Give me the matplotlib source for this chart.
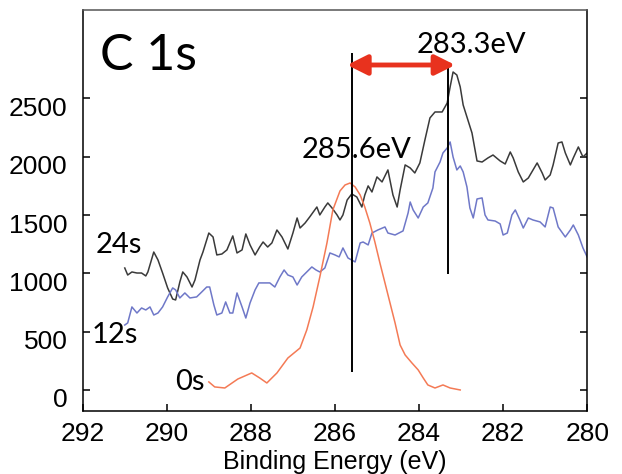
import matplotlib
matplotlib.use("Agg")
import numpy as np
from matplotlib import pyplot as plt
from matplotlib.transforms import ScaledTranslation

# 24s spectrum (black)
be_24s = [291.00, 290.93, 290.83, 290.71, 290.60, 290.50, 290.45, 290.31, 290.21, 290.10,
          289.98, 289.86, 289.79, 289.69, 289.62, 289.52, 289.40, 289.33, 289.21, 289.14,
          289.00, 288.90, 288.81, 288.69, 288.57, 288.43, 288.33, 288.21, 288.12, 288.02,
          287.90, 287.79, 287.71, 287.60, 287.50, 287.38, 287.26, 287.12, 287.00, 286.90,
          286.83, 286.71, 286.60, 286.43, 286.36, 286.24, 286.17, 286.07, 285.95, 285.88,
          285.81, 285.71, 285.60, 285.48, 285.36, 285.29, 285.21, 285.12, 285.00, 284.88,
          284.74, 284.62, 284.52, 284.45, 284.33, 284.21, 284.10, 283.98, 283.86, 283.74,
          283.62, 283.45, 283.33, 283.26, 283.19, 283.10, 283.02, 282.95, 282.86, 282.74,
          282.62, 282.50, 282.36, 282.24, 282.07, 281.95, 281.83, 281.76, 281.64, 281.52,
          281.40, 281.19, 281.07, 281.00, 280.88, 280.81, 280.69, 280.60, 280.52, 280.40,
          280.33, 280.21, 280.10, 280.00]
cps_24s = [1046, 986, 1012, 1003, 1003, 978, 1012, 1183, 1115, 1003,
           875, 780, 772, 926, 1012, 969, 883, 943, 1115, 1183,
           1346, 1312, 1158, 1166, 1201, 1321, 1175, 1201, 1338, 1244,
           1158, 1226, 1269, 1226, 1261, 1372, 1312, 1209, 1346, 1475,
           1389, 1432, 1484, 1569, 1501, 1569, 1604, 1561, 1501, 1458,
           1501, 1629, 1681, 1655, 1569, 1672, 1750, 1698, 1827, 1784,
           1887, 1672, 1569, 1715, 1930, 1904, 1861, 1947, 2144, 2333,
           2384, 2384, 2461, 2599, 2727, 2701, 2599, 2444, 2341, 2204,
           1964, 1955, 1990, 2015, 1964, 1938, 2041, 1990, 1870, 1784,
           1818, 1947, 1861, 1801, 1844, 1930, 2118, 2127, 2033, 1930,
           1990, 2084, 1998, 2033]

# 12s spectrum (blue)
be_12s = [291.00, 290.93, 290.83, 290.71, 290.60, 290.50, 290.40, 290.31, 290.21, 290.10,
          289.98, 289.86, 289.79, 289.69, 289.57, 289.45, 289.29, 289.17, 289.05, 288.98,
          288.88, 288.81, 288.69, 288.60, 288.50, 288.43, 288.33, 288.21, 288.12, 288.02,
          287.90, 287.81, 287.67, 287.55, 287.43, 287.31, 287.21, 287.12, 287.00, 286.90,
          286.79, 286.67, 286.55, 286.45, 286.36, 286.24, 286.12, 286.00, 285.90, 285.81,
          285.69, 285.52, 285.40, 285.33, 285.21, 285.12, 284.98, 284.81, 284.74, 284.57,
          284.38, 284.26, 284.21, 284.14, 284.02, 283.90, 283.79, 283.67, 283.62, 283.50,
          283.43, 283.33, 283.26, 283.19, 283.10, 283.02, 282.95, 282.86, 282.79, 282.71,
          282.62, 282.50, 282.43, 282.36, 282.19, 282.07, 282.00, 281.90, 281.79, 281.71,
          281.60, 281.52, 281.40, 281.29, 281.12, 281.00, 280.88, 280.81, 280.69, 280.52,
          280.40, 280.33, 280.21, 280.10, 280.00]
cps_12s = [557, 575, 712, 660, 703, 686, 712, 643, 660, 712,
           798, 875, 858, 789, 832, 789, 798, 840, 883, 883,
           729, 643, 660, 755, 660, 660, 832, 712, 617, 746,
           858, 918, 918, 918, 883, 969, 1029, 986, 969, 900,
           969, 1012, 1055, 1029, 1012, 1046, 1175, 1158, 1141, 1218,
           1132, 1098, 1261, 1269, 1244, 1346, 1372, 1398, 1346, 1329,
           1364, 1518, 1612, 1544, 1475, 1569, 1604, 1732, 1870, 1955,
           2033, 2075, 2127, 1998, 1887, 1921, 1870, 1741, 1561, 1475,
           1638, 1647, 1501, 1458, 1449, 1424, 1329, 1346, 1501, 1544,
           1458, 1389, 1475, 1458, 1441, 1398, 1569, 1561, 1398, 1312,
           1372, 1415, 1329, 1218, 1141]

# 0s spectrum (orange)
be_0s = [289.00, 288.86, 288.62, 288.31, 287.98, 287.79, 287.62, 287.38, 287.12, 286.83,
         286.67, 286.52, 286.36, 286.19, 286.05, 285.88, 285.76, 285.64, 285.52, 285.40,
         285.29, 285.17, 285.05, 284.93, 284.81, 284.69, 284.57, 284.45, 284.33, 284.17,
         284.02, 283.90, 283.79, 283.62, 283.43, 283.26, 283.02]
cps_0s = [69, 26, 17, 94, 146, 103, 60, 146, 274, 360,
          515, 712, 969, 1261, 1544, 1707, 1758, 1775, 1741, 1672,
          1569, 1432, 1269, 1089, 918, 746, 575, 386, 300, 232,
          172, 103, 43, 17, 43, 17, 0]

peak_pos = [285.6, 283.3]
peak_ymin = [154, 995]
peak_ymax = [2890, 2779]
xticks = [292, 290, 288, 286, 284, 282, 280]
yticks = [0, 500, 1000, 1500, 2000, 2500]

plt.rcParams['font.family'] = ['Liberation Sans', 'DejaVu Sans']

fig = plt.figure(figsize=(6.22, 4.74), dpi=100)
ax = fig.add_axes([0.133, 0.133, 0.811, 0.846])

ax.plot(be_24s, cps_24s, color='#3a3a3a', lw=1.1)
ax.plot(be_12s, cps_12s, color='#6f78c8', lw=1.1)
ax.plot(be_0s, cps_0s, color='#f47a55', lw=1.1)

ax.vlines(peak_pos, peak_ymin, peak_ymax, color='black', lw=1.4)

# shift arrow between the two peaks
ax.annotate('', xy=(283.14, 2787), xytext=(285.71, 2787),
            arrowprops=dict(arrowstyle='<|-|>,head_length=0.6,head_width=0.3',
                            color='#e8321e', lw=3.5, mutation_scale=20,
                            shrinkA=0, shrinkB=0))

lab = dict(family=['Lato', 'DejaVu Sans'], color='black')
ax.text(291.6, 2860, 'C 1s', fontsize=36, ha='left', va='center', **lab)
ax.text(285.48, 2058, '285.6eV', fontsize=21, ha='center', va='center', **lab)
ax.text(282.76, 2959, '283.3eV', fontsize=21, ha='center', va='center', **lab)
ax.text(291.14, 1244, '24s', fontsize=21, ha='center', va='center', **lab)
ax.text(291.24, 472, '12s', fontsize=21, ha='center', va='center', **lab)
ax.text(289.45, 69, '0s', fontsize=21, ha='center', va='center', **lab)

ax.set_xlim(292, 280)
ax.set_ylim(-180, 3259)
ax.set_xticks(xticks)
ax.set_yticks(yticks)
ax.tick_params(axis='both', direction='in', length=5, width=1.1, labelsize=19, pad=8)
ax.tick_params(axis='y', right=True, pad=11)
ax.set_xlabel('Binding Energy (eV)', fontsize=18, labelpad=3)

for lbl in ax.get_yticklabels():
    lbl.set_transform(lbl.get_transform() + ScaledTranslation(0, -8 / 100, fig.dpi_scale_trans))

for s in ax.spines.values():
    s.set_linewidth(1.1)
ax.spines['top'].set_color('#555555')

fig.savefig('out.png', dpi=100)
